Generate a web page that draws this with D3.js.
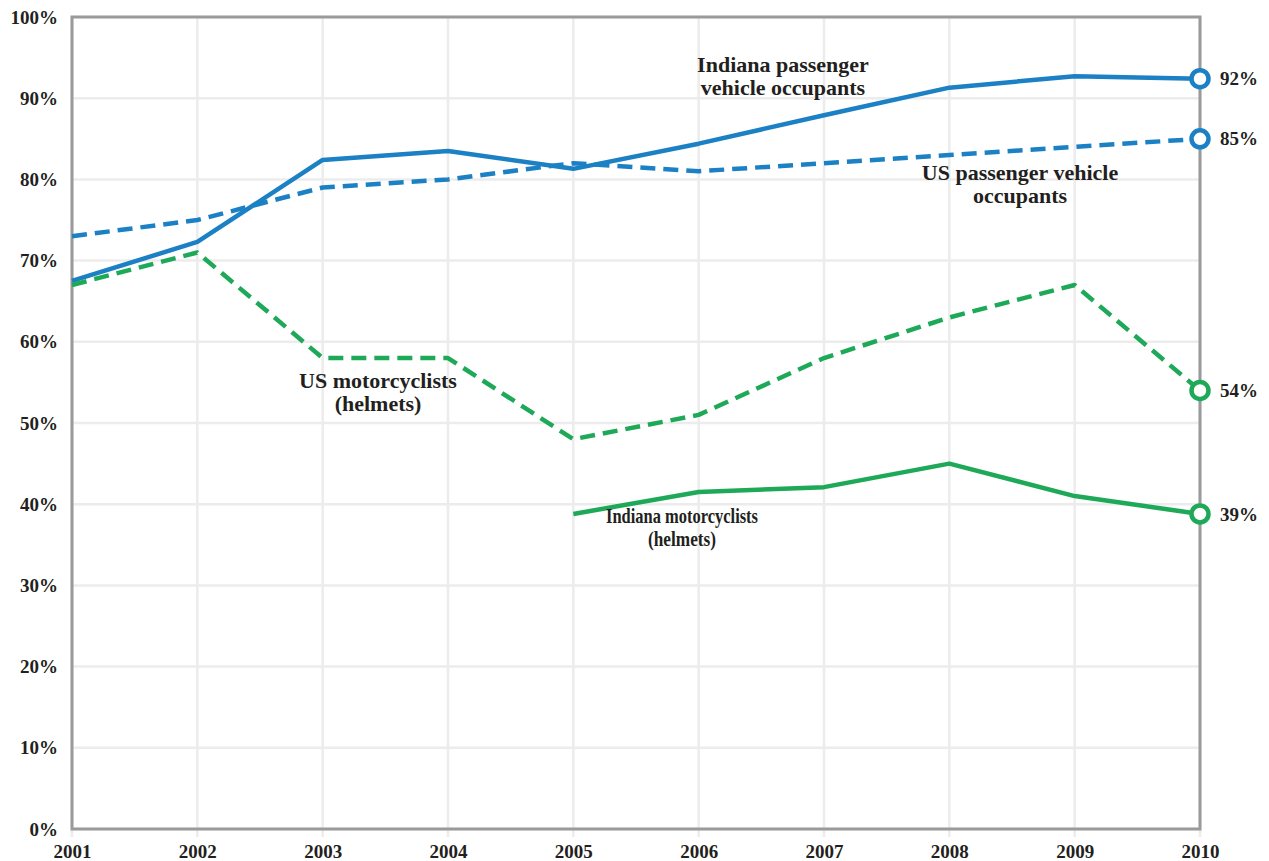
<!DOCTYPE html>
<html>
<head>
<meta charset="utf-8">
<script src="https://cdn.jsdelivr.net/npm/d3@7"></script>
<style>
  body { margin: 0; background: #fff; }
  text { font-family: "Liberation Serif", "DejaVu Serif", serif; font-weight: bold; fill: #231f20; }
</style>
</head>
<body>
<div id="chart"></div>
<script>
// data
var years = [2001, 2002, 2003, 2004, 2005, 2006, 2007, 2008, 2009, 2010];
var indianaPassenger = [67.5, 72.3, 82.4, 83.5, 81.3, 84.4, 87.9, 91.3, 92.7, 92.4];
var usPassenger = [73, 75, 79, 80, 82, 81, 82, 83, 84, 85];
var usMotorcyclists = [67, 71, 58, 58, 48, 51, 58, 63, 67, 54];
var indianaMotorcyclists = [null, null, null, null, 38.8, 41.5, 42.1, 45, 41, 38.8];
var yTicks = [0, 10, 20, 30, 40, 50, 60, 70, 80, 90, 100];
var endLabels = ["92%", "85%", "54%", "39%"];

var blue = "#1b80c4";
var green = "#1ea958";

var svgWidth = 1269;
var svgHeight = 861;

var svg = d3.select("#chart").append("svg")
    .attr("width", svgWidth)
    .attr("height", svgHeight);

// scales
var xScale = d3.scaleLinear().domain([2001, 2010]).range([72, 1200]);
var yScale = d3.scaleLinear().domain([0, 100]).range([829, 17]);

// grid lines
var grid = svg.append("g");
grid.selectAll(".hgrid")
    .data(yTicks)
    .enter()
    .append("line")
    .attr("x1", xScale(2001))
    .attr("x2", xScale(2010))
    .attr("y1", d => yScale(d))
    .attr("y2", d => yScale(d))
    .attr("stroke", "#ececec")
    .attr("stroke-width", 2.5);

grid.selectAll(".vgrid")
    .data(years)
    .enter()
    .append("line")
    .attr("x1", d => xScale(d))
    .attr("x2", d => xScale(d))
    .attr("y1", yScale(100))
    .attr("y2", yScale(0) + 8)
    .attr("stroke", "#ececec")
    .attr("stroke-width", 2.5);

// frame
svg.append("rect")
    .attr("x", xScale(2001))
    .attr("y", yScale(100))
    .attr("width", xScale(2010) - xScale(2001))
    .attr("height", yScale(0) - yScale(100))
    .attr("fill", "none")
    .attr("stroke", "#9a9a9a")
    .attr("stroke-width", 3);

// axes (labels only)
var yAxis = d3.axisLeft(yScale).tickValues(yTicks).tickSize(0).tickPadding(14)
    .tickFormat(d => d + "%");
var xAxis = d3.axisBottom(xScale).tickValues(years).tickSize(0).tickPadding(16)
    .tickFormat(d3.format("d"));

svg.append("g")
    .attr("transform", `translate(${xScale(2001)},0)`)
    .call(yAxis)
    .call(g => g.select(".domain").remove())
    .selectAll("text")
    .style("font-size", "19px")
    .style("font-family", "Liberation Serif")
    .style("font-weight", "bold")
    .attr("fill", "#231f20");

svg.append("g")
    .attr("transform", `translate(0,${yScale(0)})`)
    .call(xAxis)
    .call(g => g.select(".domain").remove())
    .selectAll("text")
    .style("font-size", "19px")
    .style("font-family", "Liberation Serif")
    .style("font-weight", "bold")
    .attr("fill", "#231f20");

// lines
var line = d3.line()
    .defined(d => d.v !== null)
    .x(d => xScale(d.year))
    .y(d => yScale(d.v));

var series = [
  {values: indianaPassenger, color: blue, dash: null},
  {values: usPassenger, color: blue, dash: "15,8"},
  {values: usMotorcyclists, color: green, dash: "15,8"},
  {values: indianaMotorcyclists, color: green, dash: null}
];

series.forEach((s, i) => {
    var pts = years.map((y, j) => ({year: y, v: s.values[j]}));
    svg.append("path")
        .datum(pts)
        .attr("d", line)
        .attr("fill", "none")
        .attr("stroke", s.color)
        .attr("stroke-width", 4.5)
        .attr("stroke-linejoin", "round")
        .attr("stroke-dasharray", s.dash);

    var last = s.values[s.values.length - 1];
    svg.append("circle")
        .attr("cx", xScale(2010))
        .attr("cy", yScale(last))
        .attr("r", 8.5)
        .attr("fill", "#fff")
        .attr("stroke", s.color)
        .attr("stroke-width", 4.5);

    svg.append("text")
        .attr("x", xScale(2010) + 20)
        .attr("y", yScale(last))
        .attr("dy", "0.35em")
        .style("font-size", "19px")
        .text(endLabels[i]);
});

// series annotations (fit = squeezed width of a condensed line, if any)
var notes = [
  {lines: ["Indiana passenger", "vehicle occupants"], x: 783, y: 72, size: 22, fit: null},
  {lines: ["US passenger vehicle", "occupants"], x: 1020, y: 180, size: 22, fit: null},
  {lines: ["US motorcyclists", "(helmets)"], x: 378, y: 388, size: 22, fit: null},
  {lines: ["Indiana motorcyclists", "(helmets)"], x: 682, y: 523, size: 21, fit: [152, 68]}
];

notes.forEach(n => {
    n.lines.forEach((l, k) => {
        var t = svg.append("text")
            .attr("text-anchor", "middle")
            .attr("x", n.x)
            .attr("y", n.y + k * 23)
            .style("font-size", n.size + "px")
            .text(l);
        if (n.fit) {
            t.attr("textLength", n.fit[k])
             .attr("lengthAdjust", "spacingAndGlyphs")
             .style("font-weight", "600");
        }
    });
});
</script>
</body>
</html>
